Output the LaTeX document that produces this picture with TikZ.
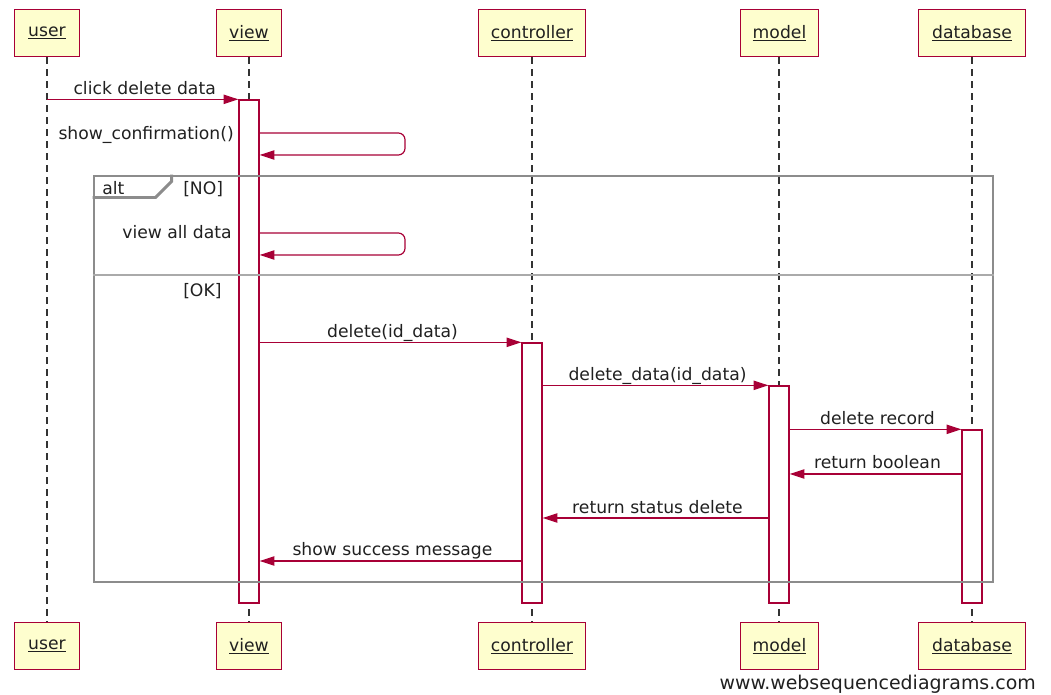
\documentclass[tikz,border=0pt]{standalone}
\usepackage{fontspec}
\setmainfont{DejaVu Sans}
\usetikzlibrary{arrows.meta}
\definecolor{crim}{HTML}{A80036}
\definecolor{boxfill}{HTML}{FEFECE}
\definecolor{framegray}{HTML}{8C8C8C}
\definecolor{divgray}{HTML}{AAAAAA}
\definecolor{txt}{HTML}{202020}
\newcommand\lblfont{\fontsize{12.9pt}{15pt}\selectfont}
\newcommand\wmfont{\fontsize{14.2pt}{16pt}\selectfont}
\begin{document}
\begin{tikzpicture}[x=0.75pt,y=-0.75pt,
  participant/.style={draw=crim,fill=boxfill,line width=1.4pt,minimum height=35.25pt,inner sep=0pt,font=\lblfont,text=txt},
  lifeline/.style={draw=black!80,line width=1pt,dash pattern=on 5.25pt off 3.75pt},
  actbar/.style={draw=crim,fill=white,line width=1pt,minimum width=15pt,inner sep=0pt},
  msg/.style={draw=crim,line width=0.9pt,-{Triangle[length=11pt,width=7pt]}},
  msglabel/.style={font=\lblfont,text=txt,inner sep=0pt,anchor=base,yshift=3.75pt,xshift=1.5pt},
  sidelabel/.style={font=\lblfont,text=txt,inner sep=0pt,anchor=base east},
  altframe/.style={draw=framegray,line width=2.2pt,inner sep=0pt},
  divline/.style={draw=divgray,line width=1.4pt},
  guard/.style={font=\lblfont,text=txt,inner sep=0pt,anchor=base west}]
\useasboundingbox (0,0) rectangle (1051,695);
% participants
\node[participant,minimum width=48.75pt] (ut) at (47,33) {\underline{user}};
\node[participant,minimum width=48.75pt] (vt) at (249,33) {\underline{view}};
\node[participant,minimum width=80.25pt] (ct) at (532,33) {\underline{controller}};
\node[participant,minimum width=58.5pt] (mt) at (779.5,33) {\underline{model}};
\node[participant,minimum width=80.25pt] (dt) at (972,33) {\underline{database}};
\node[participant,minimum width=48.75pt] (ub) at (47,646) {\underline{user}};
\node[participant,minimum width=48.75pt] (vb) at (249,646) {\underline{view}};
\node[participant,minimum width=80.25pt] (cb) at (532,646) {\underline{controller}};
\node[participant,minimum width=58.5pt] (mb) at (779.5,646) {\underline{model}};
\node[participant,minimum width=80.25pt] (db) at (972,646) {\underline{database}};
% lifelines
\draw[lifeline] (ut.south) -- (ub.north);
\draw[lifeline] (vt.south) -- (vb.north);
\draw[lifeline] (ct.south) -- (cb.north);
\draw[lifeline] (mt.south -| 779,0) -- (mb.north -| 779,0);
\draw[lifeline] (dt.south) -- (db.north);
% activation bars
\node[actbar,minimum height=377.25pt] (vbar) at (249,351.5) {};
\node[actbar,minimum height=195pt] (cbar) at (532,473) {};
\node[actbar,minimum height=162.75pt] (mbar) at (779,494.5) {};
\node[actbar,minimum height=129.75pt] (dbar) at (972,516.5) {};
% alt frame
\node[altframe,minimum width=674.25pt,minimum height=304.5pt] (alt) at (543.5,379) {};
\draw[altframe] (alt.north west) ++(0,23) -- ++(63,0) -- ++(16,-16) -- ++(0,-7);
\node[guard] (altlbl) at (102,195) {alt};
\node[guard] (g1) at (183,195) {[NO]};
\coordinate (divy) at (0,275);
\draw[divline] (alt.west |- divy) -- (alt.east |- divy);
\node[guard] (g2) at (183,297) {[OK]};
% messages
\draw[msg] (ut |- vbar.north west) -- node[msglabel] {click delete data} (vbar.north west);
\coordinate (sc1) at (0,133);
\coordinate (sc2) at (0,155);
\coordinate (sr1) at (405,133);
\coordinate (sr2) at (405,155);
\draw[msg,rounded corners=5pt] (vbar.east |- sc1) -- (sr1) -- (sr2) -- (vbar.east |- sc2);
\node[sidelabel] (scl) at (234,140) {show\_confirmation()};
\coordinate (va1) at (0,233);
\coordinate (va2) at (0,255);
\coordinate (vr1) at (405,233);
\coordinate (vr2) at (405,255);
\draw[msg,rounded corners=5pt] (vbar.east |- va1) -- (vr1) -- (vr2) -- (vbar.east |- va2);
\node[sidelabel] (val) at (232,239) {view all data};
\draw[msg] (vbar.east |- cbar.north) -- node[msglabel] {delete(id\_data)} (cbar.north west);
\draw[msg] (cbar.east |- mbar.north) -- node[msglabel] {delete\_data(id\_data)} (mbar.north west);
\draw[msg] (mbar.east |- dbar.north) -- node[msglabel] {delete record} (dbar.north west);
\coordinate (rb) at (0,474);
\draw[msg] (dbar.west |- rb) -- node[msglabel] {return boolean} (mbar.east |- rb);
\coordinate (rs) at (0,518);
\draw[msg] (mbar.west |- rs) -- node[msglabel] {return status delete} (cbar.east |- rs);
\coordinate (ss) at (0,561);
\draw[msg] (cbar.west |- ss) -- node[msglabel] {show success message} (vbar.east |- ss);
% watermark
\node[anchor=base east,font=\wmfont,text=txt,inner sep=0pt] (wm) at (1036,689) {www.websequencediagrams.com};
\end{tikzpicture}
\end{document}
